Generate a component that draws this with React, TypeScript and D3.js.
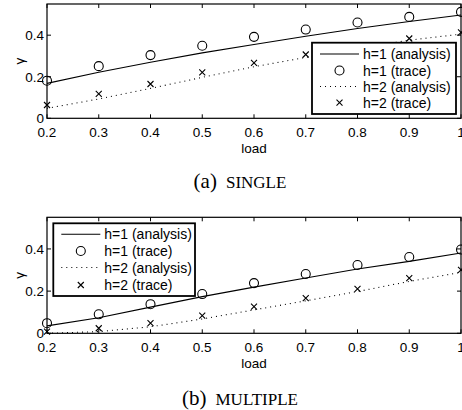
import React from "react";
import * as d3 from "d3";

const loads = [0.2, 0.3, 0.4, 0.5, 0.6, 0.7, 0.8, 0.9, 1.0];
const xTicks = [0.2, 0.3, 0.4, 0.5, 0.6, 0.7, 0.8, 0.9, 1];
const yTicks = [0, 0.2, 0.4];

// (a) SINGLE
const singleH1Analysis = [0.168, 0.222, 0.27, 0.315, 0.355, 0.395, 0.432, 0.466, 0.497];
const singleH1Trace = [0.181, 0.251, 0.304, 0.349, 0.392, 0.427, 0.461, 0.488, 0.512];
const singleH2Analysis = [0.048, 0.093, 0.144, 0.197, 0.248, 0.293, 0.336, 0.376, 0.405];
const singleH2Trace = [0.064, 0.117, 0.165, 0.221, 0.267, 0.307, 0.35, 0.384, 0.413];

// (b) MULTIPLE
const multiH1Analysis = [0.035, 0.074, 0.124, 0.174, 0.219, 0.262, 0.305, 0.341, 0.381];
const multiH1Trace = [0.048, 0.09, 0.138, 0.186, 0.238, 0.281, 0.324, 0.362, 0.397];
const multiH2Analysis = [0.0, 0.008, 0.031, 0.068, 0.111, 0.154, 0.198, 0.246, 0.289];
const multiH2Trace = [0.008, 0.024, 0.048, 0.084, 0.127, 0.167, 0.211, 0.262, 0.301];

const legendLabels = ["h=1 (analysis)", "h=1 (trace)", "h=2 (analysis)", "h=2 (trace)"];

const SANS = "'Liberation Sans', Arial, Helvetica, sans-serif";
const SERIF = "'Liberation Serif', 'Times New Roman', serif";

type PanelProps = {
  top: number;
  bottom: number;
  h1a: number[];
  h1t: number[];
  h2a: number[];
  h2t: number[];
  legend: { x: number; y: number; w: number; h: number; rowY: number[] };
  clipId: string;
};

const LEFT = 47;
const RIGHT = 461;

function Panel({ top, bottom, h1a, h1t, h2a, h2t, legend, clipId }: PanelProps) {
  const x = d3.scaleLinear().domain([0.2, 1]).range([LEFT, RIGHT]);
  const y = d3.scaleLinear().domain([0, 0.55]).range([bottom, top]);
  const line = d3
    .line<number>()
    .x((_, i) => x(loads[i]))
    .y((d) => y(d));
  const tk = 4;
  const fs = 13.5;
  const cross = (cx: number, cy: number, s = 3) =>
    `M${cx - s},${cy - s}L${cx + s},${cy + s}M${cx - s},${cy + s}L${cx + s},${cy - s}`;
  const lx0 = legend.x + 8;
  const lx1 = legend.x + 47;
  const lmid = (lx0 + lx1) / 2;
  const ltx = legend.x + 51;
  return (
    <g>
      <defs>
        <clipPath id={clipId}>
          <rect x={LEFT - 6} y={top - 6} width={RIGHT - LEFT + 12} height={bottom - top + 12} />
        </clipPath>
      </defs>
      {/* ticks */}
      {xTicks.map((t) => (
        <g key={"xt" + t}>
          <line x1={x(t)} x2={x(t)} y1={bottom} y2={bottom - tk} stroke="#000" strokeWidth={1} />
          <line x1={x(t)} x2={x(t)} y1={top} y2={top + tk} stroke="#000" strokeWidth={1} />
          <text x={x(t)} y={bottom + 19} textAnchor="middle" fontFamily={SANS} fontSize={fs} fill="#000">
            {t === 1 ? "1" : t.toFixed(1)}
          </text>
        </g>
      ))}
      {yTicks.map((t) => (
        <g key={"yt" + t}>
          <line x1={LEFT} x2={LEFT + tk} y1={y(t)} y2={y(t)} stroke="#000" strokeWidth={1} />
          <line x1={RIGHT} x2={RIGHT - tk} y1={y(t)} y2={y(t)} stroke="#000" strokeWidth={1} />
          <text x={44} y={y(t) + 5} textAnchor="end" fontFamily={SANS} fontSize={fs} fill="#000">
            {t === 0 ? "0" : t.toFixed(1)}
          </text>
        </g>
      ))}
      {/* data */}
      <g clipPath={`url(#${clipId})`}>
        <path d={line(h1a) || ""} fill="none" stroke="#000" strokeWidth={1.1} />
        <path d={line(h2a) || ""} fill="none" stroke="#000" strokeWidth={1.1} strokeDasharray="1,4" />
        {h1t.map((v, i) => (
          <circle key={"c" + i} cx={x(loads[i])} cy={y(v)} r={4.5} fill="none" stroke="#000" strokeWidth={1.1} />
        ))}
        {h2t.map((v, i) => (
          <path key={"x" + i} d={cross(x(loads[i]), y(v))} stroke="#000" strokeWidth={1.1} fill="none" />
        ))}
      </g>
      {/* axes box */}
      <rect x={LEFT} y={top} width={RIGHT - LEFT} height={bottom - top} fill="none" stroke="#000" strokeWidth={1.2} />
      {/* legend */}
      <rect x={legend.x} y={legend.y} width={legend.w} height={legend.h} fill="#fff" stroke="#000" strokeWidth={1.8} />
      <line x1={lx0} x2={lx1} y1={legend.rowY[0]} y2={legend.rowY[0]} stroke="#000" strokeWidth={1.1} />
      <circle cx={lmid} cy={legend.rowY[1]} r={4.5} fill="none" stroke="#000" strokeWidth={1.1} />
      <line x1={lx0} x2={lx1} y1={legend.rowY[2]} y2={legend.rowY[2]} stroke="#000" strokeWidth={1.1} strokeDasharray="1,4" />
      <path d={cross(lmid, legend.rowY[3])} stroke="#000" strokeWidth={1.1} fill="none" />
      {legendLabels.map((l, i) => (
        <text key={l} x={ltx} y={legend.rowY[i] + 5} fontFamily={SANS} fontSize={14} fill="#000">
          {l}
        </text>
      ))}
      {/* axis labels */}
      <text x={(LEFT + RIGHT) / 2} y={bottom + 35} textAnchor="middle" fontFamily={SANS} fontSize={fs} fill="#000">
        load
      </text>
      <text
        transform={`translate(24, ${(top + bottom) / 2}) rotate(-90)`}
        textAnchor="middle"
        fontFamily={SANS}
        fontSize={fs}
        fill="#000"
      >
        γ
      </text>
    </g>
  );
}

export default function App() {
  return (
    <div style={{ position: "absolute", left: 0, top: 0, width: 462, height: 410, background: "#fff" }}>
      <svg width={462} height={410} viewBox="0 0 462 410" style={{ display: "block" }}>
        <rect width={462} height={410} fill="#fff" />
        <Panel
          top={4}
          bottom={118.3}
          h1a={singleH1Analysis}
          h1t={singleH1Trace}
          h2a={singleH2Analysis}
          h2t={singleH2Trace}
          legend={{ x: 312, y: 42.7, w: 144, h: 71.3, rowY: [54, 70.5, 86.5, 102.7] }}
          clipId="clipA"
        />
        <Panel
          top={217.3}
          bottom={333.3}
          h1a={multiH1Analysis}
          h1t={multiH1Trace}
          h2a={multiH2Analysis}
          h2t={multiH2Trace}
          legend={{ x: 53.3, y: 223.3, w: 141.7, h: 72.7, rowY: [234.3, 251, 267.5, 285] }}
          clipId="clipB"
        />
        <text x={240} y={188} textAnchor="middle" fontFamily={SERIF} fill="#000">
          <tspan fontSize={21}>(a)</tspan>
          <tspan fontSize={17} dx={9}>SINGLE</tspan>
        </text>
        <text x={240} y={405} textAnchor="middle" fontFamily={SERIF} fill="#000">
          <tspan fontSize={21}>(b)</tspan>
          <tspan fontSize={17} dx={9}>MULTIPLE</tspan>
        </text>
      </svg>
    </div>
  );
}
